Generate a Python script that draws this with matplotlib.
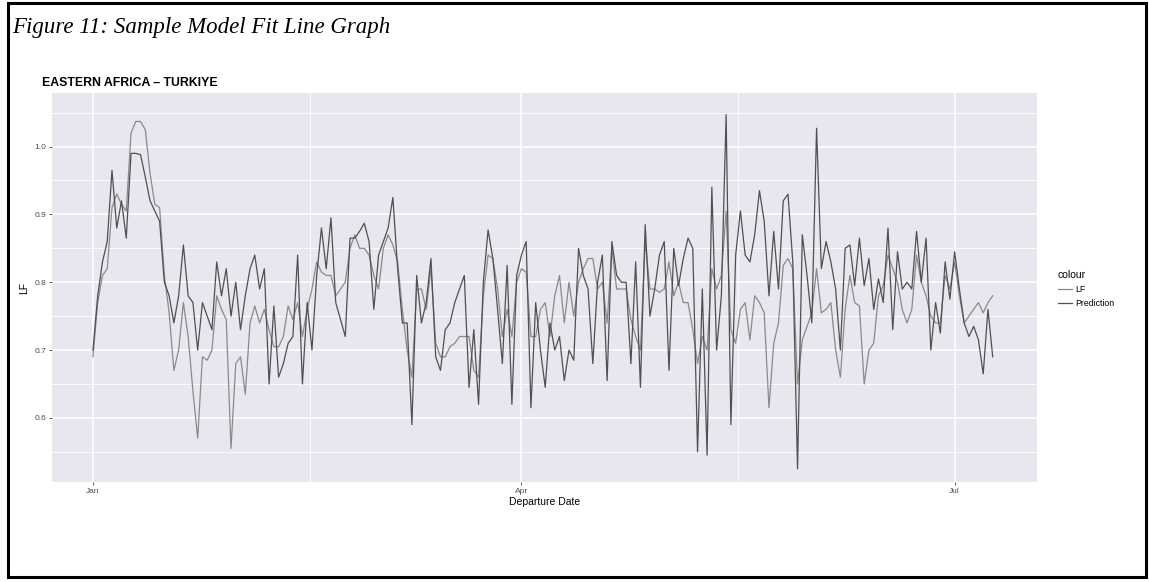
import matplotlib
matplotlib.use("Agg")
import matplotlib.pyplot as plt
import matplotlib.dates as mdates
from matplotlib.lines import Line2D
from matplotlib.patches import Rectangle
from matplotlib.ticker import FormatStrFormatter, MultipleLocator
import pandas as pd

plt.rcParams["font.family"] = "Liberation Sans"

# daily departures from 1 Jan
start_date = "2022-01-01"

lf = [
    0.69, 0.77, 0.81, 0.82, 0.91, 0.93, 0.915, 0.905, 1.02, 1.037,
    1.037, 1.025, 0.96, 0.915, 0.91, 0.81, 0.755, 0.67, 0.70, 0.77,
    0.72, 0.64, 0.57, 0.69, 0.685, 0.70, 0.78, 0.76, 0.745, 0.555,
    0.68, 0.69, 0.635, 0.74, 0.765, 0.74, 0.76, 0.73, 0.705, 0.705,
    0.72, 0.765, 0.745, 0.77, 0.72, 0.76, 0.79, 0.83, 0.815, 0.81,
    0.81, 0.78, 0.79, 0.80, 0.85, 0.87, 0.85, 0.85, 0.84, 0.81,
    0.79, 0.85, 0.87, 0.855, 0.83, 0.76, 0.70, 0.66, 0.79, 0.79,
    0.76, 0.82, 0.71, 0.69, 0.69, 0.705, 0.71, 0.72, 0.72, 0.72,
    0.67, 0.66, 0.78, 0.84, 0.835, 0.79, 0.72, 0.76, 0.72, 0.80,
    0.82, 0.815, 0.72, 0.72, 0.76, 0.77, 0.72, 0.78, 0.81, 0.74,
    0.80, 0.75, 0.80, 0.82, 0.835, 0.835, 0.79, 0.80, 0.74, 0.85,
    0.79, 0.79, 0.79, 0.745, 0.72, 0.70, 0.86, 0.79, 0.79, 0.785,
    0.79, 0.83, 0.78, 0.80, 0.77, 0.77, 0.73, 0.68, 0.72, 0.70,
    0.82, 0.79, 0.81, 0.905, 0.73, 0.71, 0.76, 0.77, 0.715, 0.78,
    0.77, 0.755, 0.615, 0.71, 0.74, 0.825, 0.835, 0.82, 0.65, 0.715,
    0.735, 0.755, 0.82, 0.755, 0.76, 0.77, 0.70, 0.66, 0.76, 0.81,
    0.77, 0.765, 0.65, 0.70, 0.71, 0.78, 0.795, 0.84, 0.82, 0.80,
    0.76, 0.74, 0.76, 0.84, 0.80, 0.78, 0.75, 0.74, 0.74, 0.81,
    0.79, 0.83, 0.78, 0.74, 0.75, 0.76, 0.77, 0.755, 0.77, 0.78,
]

prediction = [
    0.70, 0.78, 0.83, 0.86, 0.965, 0.88, 0.92, 0.865, 0.99, 0.99,
    0.988, 0.955, 0.92, 0.905, 0.89, 0.80, 0.78, 0.74, 0.78, 0.855,
    0.78, 0.77, 0.70, 0.77, 0.75, 0.73, 0.83, 0.78, 0.82, 0.75,
    0.80, 0.73, 0.78, 0.82, 0.84, 0.79, 0.82, 0.65, 0.765, 0.66,
    0.68, 0.71, 0.72, 0.84, 0.65, 0.77, 0.70, 0.81, 0.88, 0.82,
    0.895, 0.77, 0.745, 0.72, 0.865, 0.865, 0.875, 0.887, 0.86, 0.76,
    0.84, 0.86, 0.88, 0.925, 0.82, 0.74, 0.74, 0.59, 0.81, 0.74,
    0.77, 0.835, 0.69, 0.67, 0.73, 0.74, 0.77, 0.79, 0.81, 0.645,
    0.73, 0.62, 0.80, 0.877, 0.835, 0.76, 0.68, 0.825, 0.62, 0.81,
    0.84, 0.86, 0.615, 0.77, 0.70, 0.645, 0.74, 0.70, 0.72, 0.655,
    0.70, 0.685, 0.85, 0.81, 0.79, 0.68, 0.80, 0.84, 0.655, 0.86,
    0.81, 0.80, 0.80, 0.68, 0.83, 0.645, 0.885, 0.75, 0.79, 0.84,
    0.86, 0.67, 0.85, 0.795, 0.835, 0.865, 0.85, 0.55, 0.79, 0.545,
    0.94, 0.70, 0.78, 1.047, 0.59, 0.84, 0.905, 0.84, 0.83, 0.87,
    0.935, 0.89, 0.78, 0.875, 0.79, 0.92, 0.93, 0.83, 0.525, 0.87,
    0.81, 0.74, 1.027, 0.82, 0.86, 0.83, 0.79, 0.70, 0.85, 0.855,
    0.795, 0.865, 0.795, 0.835, 0.76, 0.805, 0.77, 0.88, 0.73, 0.845,
    0.79, 0.80, 0.79, 0.875, 0.80, 0.865, 0.70, 0.77, 0.725, 0.83,
    0.775, 0.845, 0.79, 0.74, 0.72, 0.735, 0.715, 0.665, 0.76, 0.69,
]

tick_dates = ["2022-01-01", "2022-04-01", "2022-07-01"]
tick_labels = ["Jan", "Apr", "Jul"]
minor_dates = ["2022-02-15 12:00", "2022-05-16 12:00"]

dates = pd.date_range(start_date, periods=len(lf), freq="D")

W, H = 1149, 582
fig = plt.figure(figsize=(W / 100, H / 100), dpi=100)

ax = fig.add_axes([52 / W, 1 - 482 / H, 985 / W, 389 / H])
ax.set_facecolor("#e8e6ee")
for s in ax.spines.values():
    s.set_visible(False)

col_lf = "#8a8a8a"
col_pred = "#505050"
ax.plot(dates, lf, color=col_lf, lw=0.9)
ax.plot(dates, prediction, color=col_pred, lw=0.9)

t0 = pd.Timestamp(start_date)
ax.set_xlim(t0 - pd.Timedelta(days=8.6), t0 + pd.Timedelta(days=198.3))
ax.set_ylim(0.5055, 1.079)

ax.set_xticks(pd.to_datetime(tick_dates))
ax.set_xticklabels(tick_labels)
ax.set_xticks(pd.to_datetime(minor_dates), minor=True)
ax.yaxis.set_major_locator(MultipleLocator(0.1))
ax.yaxis.set_minor_locator(MultipleLocator(0.05))
ax.yaxis.set_major_formatter(FormatStrFormatter("%.1f"))

ax.set_axisbelow(True)
ax.grid(which="major", color="white", lw=1.1)
ax.grid(which="minor", color="white", lw=0.6)
ax.tick_params(which="major", length=2.5, width=0.6, color="#444444",
               labelsize=6, labelcolor="#4d4d4d", pad=1.5)
ax.tick_params(which="minor", length=0)

ax.set_xlabel("Departure Date", fontsize=7.5, labelpad=2)
ax.set_ylabel("LF", fontsize=7.5, labelpad=4)

# legend
handles = [Line2D([], [], color=col_lf, lw=0.9),
           Line2D([], [], color=col_pred, lw=0.9)]
leg = fig.legend(handles, ["LF", "Prediction"], title="colour",
                 loc="upper left", bbox_to_anchor=(1050 / W, 1 - 262 / H),
                 frameon=False, fontsize=6.3, title_fontsize=7.5,
                 handlelength=1.6, handletextpad=0.4, labelspacing=0.6)
leg._legend_box.align = "left"

fig.text(42 / W, 1 - 83 / H, "EASTERN AFRICA \u2013 TURKIYE",
         fontsize=8.8, fontweight="bold", va="center", ha="left")

fig.text(12 / W, 1 - 28 / H, "Figure 11: Sample Model Fit Line Graph",
         family="Liberation Serif", style="italic", fontsize=16.5,
         va="center", ha="left")

fig.add_artist(Rectangle((8 / W, 1 - 577 / H), 1138 / W, 574 / H,
                         transform=fig.transFigure, fill=False,
                         lw=2.2, ec="black"))

fig.savefig("out.png", dpi=100)
